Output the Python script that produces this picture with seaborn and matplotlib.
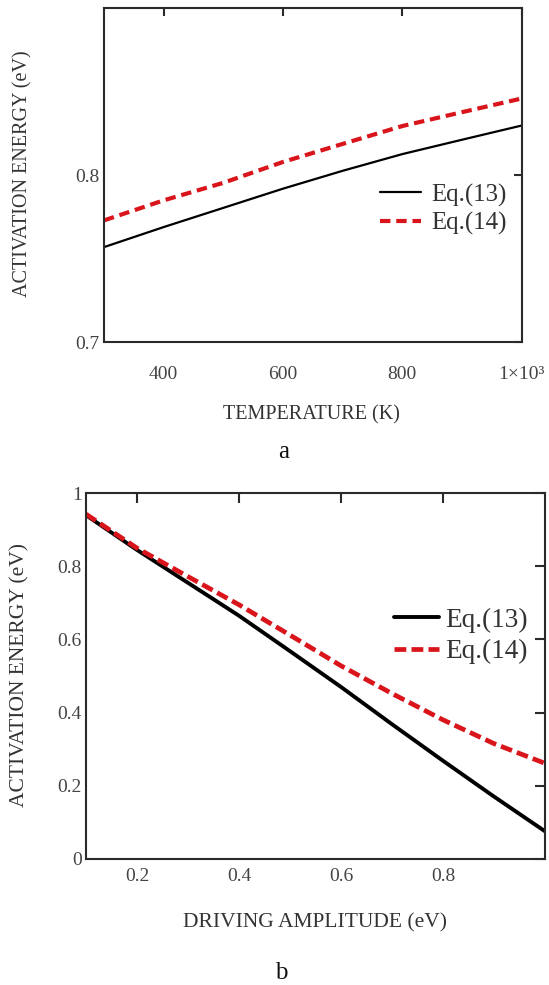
import numpy as np
import pandas as pd
import matplotlib
matplotlib.use("Agg")
import matplotlib.pyplot as plt
import seaborn as sns

# ---- data ----
temperature = [300, 400, 500, 600, 700, 800, 900, 1000]
ea_eq13_T = [0.757, 0.769, 0.7805, 0.792, 0.8027, 0.8127, 0.8213, 0.8298]
ea_eq14_T = [0.773, 0.785, 0.7955, 0.808, 0.8188, 0.8295, 0.8378, 0.846]

amplitude = [0.1, 0.2, 0.3, 0.4, 0.5, 0.6, 0.7, 0.8, 0.9, 1.0]
ea_eq13_A = [0.940, 0.845, 0.755, 0.665, 0.568, 0.470, 0.368, 0.268, 0.170, 0.075]
ea_eq14_A = [0.943, 0.850, 0.772, 0.695, 0.612, 0.528, 0.452, 0.380, 0.315, 0.261]

series = ["Eq.(13)", "Eq.(14)"]
xticks_a = [400, 600, 800, 1000]
xticklabels_a = ["400", "600", "800", "1×10³"]
yticks_a = [0.7, 0.8]
yticklabels_a = ["0.7", "0.8"]
xticks_b = [0.2, 0.4, 0.6, 0.8]
xticklabels_b = ["0.2", "0.4", "0.6", "0.8"]
yticks_b = [0, 0.2, 0.4, 0.6, 0.8, 1.0]
yticklabels_b = ["0", "0.2", "0.4", "0.6", "0.8", "1"]

sns.set_style("white")
plt.rcParams["font.family"] = ["Liberation Serif", "DejaVu Serif"]

TXT = "#333333"
TICKTXT = "#444444"
SPINE = "#2a2a2a"
RED = "#d9151b"
W, H = 549.0, 985.0

dfa = pd.DataFrame({
    "T": temperature * 2,
    "E": ea_eq13_T + ea_eq14_T,
    "eq": [series[0]] * len(temperature) + [series[1]] * len(temperature),
})
dfb = pd.DataFrame({
    "A": amplitude * 2,
    "E": ea_eq13_A + ea_eq14_A,
    "eq": [series[0]] * len(amplitude) + [series[1]] * len(amplitude),
})

fig = plt.figure(figsize=(5.49, 9.85), dpi=100)
axa = fig.add_axes([104 / W, (H - 342.3) / H, 417.7 / W, 334 / H])
axb = fig.add_axes([86 / W, (H - 858.7) / H, 459 / W, 365.4 / H])


def style_axes(ax, pad_x, tick_len):
    for s in ax.spines.values():
        s.set_color(SPINE)
        s.set_linewidth(1.5)
    ax.tick_params(direction="in", length=tick_len, width=1.5, top=True, right=True,
                   colors=SPINE, labelcolor=TICKTXT, labelsize=14)
    ax.tick_params(axis="x", pad=pad_x)
    ax.tick_params(axis="y", pad=3)


# panel a
sns.lineplot(data=dfa, x="T", y="E", hue="eq", style="eq",
             palette={series[0]: "black", series[1]: RED},
             dashes={series[0]: "", series[1]: (2.5, 1.4)},
             ax=axa, legend=False)
lines = axa.get_lines()
lines[0].set_linewidth(1.6)
lines[1].set_linewidth(3.0)
axa.set_xlim(300, 1000)
axa.set_ylim(0.7, 0.9)
axa.set_xticks(xticks_a)
axa.set_xticklabels(xticklabels_a)
axa.set_yticks(yticks_a)
axa.set_yticklabels(yticklabels_a)
axa.set_xlabel("")
axa.set_ylabel("")
style_axes(axa, 17, 6)
axa.legend(handles=lines[:2], labels=series, loc="center left",
           bbox_to_anchor=(380 / W, 1 - 209.2 / H), bbox_transform=fig.transFigure,
           frameon=False, fontsize=17.9,
           handlelength=1.65, labelspacing=0.21, handletextpad=0.43,
           borderpad=0, borderaxespad=0, labelcolor=TXT)

# panel b
sns.lineplot(data=dfb, x="A", y="E", hue="eq", style="eq",
             palette={series[0]: "black", series[1]: RED},
             dashes={series[0]: "", series[1]: (2.5, 1.1)},
             ax=axb, legend=False)
lines_b = axb.get_lines()
lines_b[0].set_linewidth(2.8)
lines_b[1].set_linewidth(3.4)
axb.set_xlim(0.1, 1.0)
axb.set_ylim(0, 1)
axb.set_xticks(xticks_b)
axb.set_xticklabels(xticklabels_b)
axb.set_yticks(yticks_b)
axb.set_yticklabels(yticklabels_b)
axb.set_xlabel("")
axb.set_ylabel("")
style_axes(axb, 7, 7)
axb.legend(handles=lines_b[:2], labels=series, loc="center left",
           bbox_to_anchor=(394.3 / W, 1 - 635.9 / H), bbox_transform=fig.transFigure,
           frameon=False, fontsize=19.6,
           handlelength=1.65, labelspacing=0.235, handletextpad=0.21,
           borderpad=0, borderaxespad=0, labelcolor=TXT)

# axis labels and panel letters
fig.text(311.5 / W, 1 - 415 / H, "TEMPERATURE (K)", ha="center", va="center",
         fontsize=14.5, color=TXT)
fig.text(22.5 / W, 1 - 174 / H, "ACTIVATION ENERGY (eV)", ha="center", va="center",
         rotation=90, fontsize=14.5, color=TXT)
fig.text(283.3 / W, 1 - 451.7 / H, "a", ha="center", va="center", fontsize=18, color="#111111")

fig.text(314.6 / W, 1 - 923.3 / H, "DRIVING AMPLITUDE (eV)", ha="center", va="center",
         fontsize=15.5, color=TXT)
fig.text(20 / W, 1 - 675 / H, "ACTIVATION ENERGY (eV)", ha="center", va="center",
         rotation=90, fontsize=15.5, color=TXT)
fig.text(281.2 / W, 1 - 973.3 / H, "b", ha="center", va="center", fontsize=18, color="#111111")

fig.savefig("out.png", dpi=100)
